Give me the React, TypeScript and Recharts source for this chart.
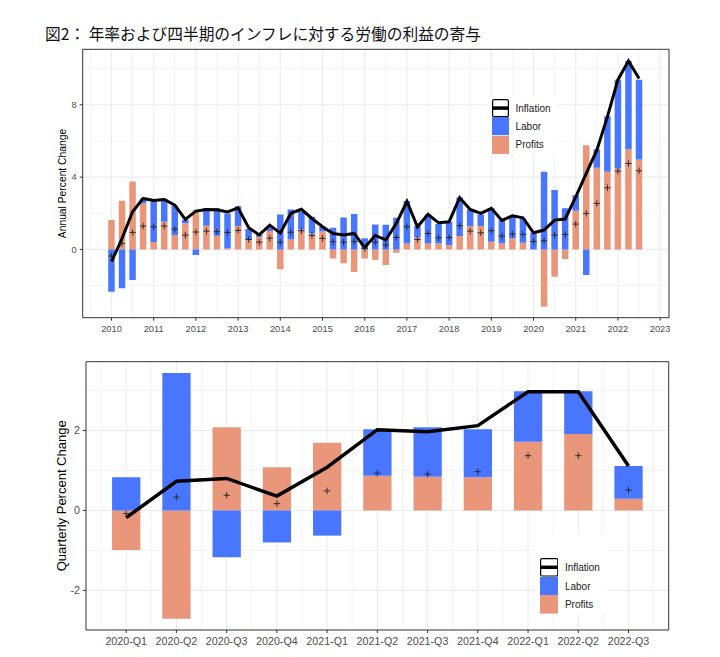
import React from "react";
import {
    ComposedChart,
    Bar,
    Line,
    Scatter,
    XAxis,
    YAxis,
    CartesianGrid,
    ReferenceArea,
    Legend,
} from "recharts";

const BLUE = "#4876FF";
const SALMON = "#E9967A";

// annual series, one value per quarter from 2010-Q1 to 2022-Q3
const annualProfits = [
    1.62, 2.69, 3.76, 2.54, 0.41, 1.53, 0.79, 1.44, 2.17, 1.31, 0.76, 0.06, 1.29,
    0.52, 0.7, 1.02, -1.1, 0.55, 1.1, 0.88, 1.0, -0.5, -0.77, -1.25, -0.5, -0.59,
    -0.87, -0.18, 0.33, 0.66, 0.33, 0.33, 0.24, 0.74, 1.29, 1.29, 0.42, 0.33, 0.61,
    0.37, 0.0, -3.17, -1.51, -0.53, 2.14, 5.76, 4.51, 4.29, 4.47, 5.54, 4.97,
];
const annualLabor = [
    -2.34, -2.15, -1.69, 0.28, 2.35, 1.27, 1.62, 0.18, -0.31, 0.96, 1.51, 1.93, 1.09,
    0.61, 0.1, 0.2, 1.93, 1.66, 1.0, 0.92, 0.25, 1.2, 1.77, 1.96, 0.61, 1.37,
    1.36, 1.75, 2.34, 0.63, 1.6, 1.07, 1.29, 2.13, 0.92, 0.64, 1.85, 1.29, 1.23,
    1.32, 0.92, 4.29, 3.28, 2.27, 0.86, -1.42, 1.03, 3.08, 4.92, 4.88, 4.42,
];
const annualInflation = [
    -0.68, 0.6, 2.08, 2.82, 2.7, 2.76, 2.45, 1.66, 2.12, 2.21, 2.19, 2.07, 2.3,
    1.2, 0.8, 1.34, 0.9, 2.0, 2.22, 1.71, 1.25, 0.88, 0.8, 0.88, 0.1, 0.77,
    0.52, 1.44, 2.65, 1.25, 1.94, 1.47, 1.53, 2.86, 2.21, 1.99, 2.27, 1.6, 1.86,
    1.75, 0.92, 1.07, 1.62, 1.68, 2.91, 4.2, 5.49, 7.33, 9.39, 10.42, 9.45,
];
const annualMarker = [
    -0.37, 0.33, 0.94, 1.29, 1.25, 1.29, 1.12, 0.79, 0.96, 1.01, 0.98, 0.94, 1.05,
    0.55, 0.4, 0.62, 0.4, 0.95, 1.03, 0.77, 0.61, 0.42, 0.4, 0.44, 0.05, 0.4,
    0.24, 0.66, 1.25, 0.55, 0.88, 0.64, 0.66, 1.31, 1.01, 0.92, 1.03, 0.74, 0.85,
    0.83, 0.44, 0.48, 0.79, 0.83, 1.4, 1.99, 2.54, 3.41, 4.33, 4.75, 4.35,
];
const yearTicks = [2010, 2011, 2012, 2013, 2014, 2015, 2016, 2017, 2018, 2019, 2020, 2021, 2022, 2023];
const annualYTicks = [0, 4, 8];
const annualYMinor = [-2, 2, 6, 10];

// quarterly series
const quarterLabels = [
    "2020-Q1", "2020-Q2", "2020-Q3", "2020-Q4", "2021-Q1", "2021-Q2",
    "2021-Q3", "2021-Q4", "2022-Q1", "2022-Q2", "2022-Q3",
];
const quarterLabor = [0.83, 3.44, -1.17, -0.8, -0.63, 1.16, 1.24, 1.2, 1.26, 1.07, 0.82];
const quarterProfits = [-0.99, -2.71, 2.08, 1.08, 1.69, 0.87, 0.84, 0.83, 1.72, 1.91, 0.29];
const quarterInflation = [-0.18, 0.73, 0.8, 0.36, 1.08, 2.02, 1.97, 2.12, 2.97, 2.97, 1.11];
const quarterMarker = [-0.08, 0.33, 0.38, 0.17, 0.49, 0.93, 0.91, 0.97, 1.37, 1.37, 0.51];
const quarterYTicks = [-2, 0, 2];
const quarterYMinor = [-1, 1, 3];

const annualData = annualProfits.map((p, i) => ({
    x: 2010 + i / 4,
    profits: p,
    labor: annualLabor[i],
    inflation: annualInflation[i],
    marker: annualMarker[i],
}));

const quarterData = quarterLabels.map((q, i) => ({
    x: i + 1,
    profits: quarterProfits[i],
    labor: quarterLabor[i],
    inflation: quarterInflation[i],
    marker: quarterMarker[i],
}));

const annualXDomain = [2009.318, 2023.21];
const annualYDomain = [-3.78, 11.07];
const quarterXDomain = [0.2, 11.8];
const quarterYDomain = [-2.99, 3.72];

const halfYears = yearTicks.slice(0, -1).map((y) => y + 0.5).concat([2009.5]);
const quarterMajorX = quarterLabels.map((_, i) => i + 1);
const quarterMinorX = [0.5].concat(quarterLabels.map((_, i) => i + 1.5));

const plusShape = (props: any) => {
    const { cx, cy } = props;
    if (cx == null || cy == null) return <g />;
    return (
        <g>
            <line x1={cx - 3.2} x2={cx + 3.2} y1={cy} y2={cy} stroke="#222" strokeWidth={0.9} />
            <line x1={cx} x2={cx} y1={cy - 3.2} y2={cy + 3.2} stroke="#222" strokeWidth={0.9} />
        </g>
    );
};

const makeLegend = (keyW: number, keyH: number, padTop: number) => () => {
    const rows = [
        { name: "Inflation", kind: "line" },
        { name: "Labor", kind: BLUE },
        { name: "Profits", kind: SALMON },
    ];
    return (
        <div style={{ background: "#fff", paddingTop: padTop, paddingLeft: 4.5 }}>
            {rows.map((r) => (
                <div key={r.name} style={{ display: "flex", alignItems: "center", height: keyH }}>
                    <svg width={keyW} height={keyH} style={{ display: "block" }}>
                        {r.kind === "line" ? (
                            <>
                                <rect x={0.6} y={0.6} width={keyW - 1.2} height={keyH - 1.2} fill="#fff" stroke="#000" strokeWidth={1.2} rx={1.5} />
                                <line x1={1} x2={keyW - 1} y1={keyH / 2} y2={keyH / 2} stroke="#000" strokeWidth={3.5} />
                            </>
                        ) : (
                            <rect x={0} y={0} width={keyW} height={keyH} fill={r.kind} />
                        )}
                    </svg>
                    <span style={{ marginLeft: 7, fontSize: 10, color: "#1a1a1a" }}>{r.name}</span>
                </div>
            ))}
        </div>
    );
};

const tickStyle = (size: number) => ({ fontSize: size, fill: "#4D4D4D" });

const App = () => {
    return (
        <div
            style={{
                position: "absolute",
                left: 0,
                top: 0,
                width: 720,
                height: 657,
                background: "#fff",
                fontFamily: '"Liberation Sans", Arial, sans-serif',
            }}
        >
            <div style={{ position: "absolute", left: 0, top: 0 }}>
                <ComposedChart
                    width={720}
                    height={345}
                    data={annualData}
                    stackOffset="sign"
                    margin={{ top: 49.3, right: 51, bottom: 2.3, left: 42.7 }}
                >
                    <CartesianGrid stroke="#EBEBEB" strokeWidth={0.6} horizontalValues={annualYMinor} verticalValues={halfYears} />
                    <CartesianGrid stroke="#EBEBEB" strokeWidth={1.1} horizontalValues={annualYTicks} verticalValues={yearTicks} />
                    <XAxis
                        dataKey="x"
                        type="number"
                        domain={annualXDomain}
                        ticks={yearTicks}
                        interval={0}
                        allowDataOverflow
                        height={25}
                        axisLine={false}
                        tickSize={3}
                        tickMargin={5}
                        tickLine={{ stroke: "#333" }}
                        tick={tickStyle(9.3)}
                    />
                    <YAxis
                        type="number"
                        domain={annualYDomain}
                        ticks={annualYTicks}
                        interval={0}
                        allowDataOverflow
                        width={40}
                        axisLine={false}
                        tickSize={3}
                        tickMargin={3}
                        tickLine={{ stroke: "#333" }}
                        tick={tickStyle(9.3)}
                        label={{ value: "Annual Percent Change", angle: -90, position: "center", fontSize: 10.3, fill: "#000" }}
                    />
                    <Bar dataKey="profits" stackId="s" fill={SALMON} barSize={6.5} isAnimationActive={false} />
                    <Bar dataKey="labor" stackId="s" fill={BLUE} barSize={6.5} isAnimationActive={false} />
                    <Line type="linear" dataKey="inflation" stroke="#000" strokeWidth={3} dot={false} isAnimationActive={false} />
                    <Scatter dataKey="marker" shape={plusShape} isAnimationActive={false} />
                    <ReferenceArea
                        x1={annualXDomain[0]}
                        x2={annualXDomain[1]}
                        y1={annualYDomain[0]}
                        y2={annualYDomain[1]}
                        fill="none"
                        stroke="#333"
                        strokeWidth={1}
                        ifOverflow="visible"
                    />
                    <Legend
                        layout="vertical"
                        align="center"
                        verticalAlign="middle"
                        content={makeLegend(17, 18.2, 2.6)}
                        wrapperStyle={{ left: 487, top: 96.7, width: 71, height: 58 }}
                    />
                </ComposedChart>
            </div>

            <div style={{ position: "absolute", left: 0, top: 345 }}>
                <ComposedChart
                    width={720}
                    height={312}
                    data={quarterData}
                    stackOffset="sign"
                    margin={{ top: 16.7, right: 51.3, bottom: 2, left: 37.4 }}
                >
                    <CartesianGrid stroke="#EBEBEB" strokeWidth={0.6} horizontalValues={quarterYMinor} verticalValues={quarterMinorX} />
                    <CartesianGrid stroke="#EBEBEB" strokeWidth={1.1} horizontalValues={quarterYTicks} verticalValues={quarterMajorX} />
                    <XAxis
                        dataKey="x"
                        type="number"
                        domain={quarterXDomain}
                        ticks={quarterMajorX}
                        interval={0}
                        allowDataOverflow
                        height={25}
                        axisLine={false}
                        tickSize={3}
                        tickMargin={4.3}
                        tickLine={{ stroke: "#333" }}
                        tick={tickStyle(10.7)}
                        tickFormatter={(v: number) => quarterLabels[v - 1]}
                    />
                    <YAxis
                        type="number"
                        domain={quarterYDomain}
                        ticks={quarterYTicks}
                        interval={0}
                        allowDataOverflow
                        width={48.6}
                        axisLine={false}
                        tickSize={3}
                        tickMargin={3}
                        tickLine={{ stroke: "#333" }}
                        tick={tickStyle(10.7)}
                        label={{ value: "Quarterly Percent Change", angle: -90, position: "center", fontSize: 13, fill: "#000" }}
                    />
                    <Bar dataKey="profits" stackId="s" fill={SALMON} barSize={28.3} isAnimationActive={false} />
                    <Bar dataKey="labor" stackId="s" fill={BLUE} barSize={28.3} isAnimationActive={false} />
                    <Line type="linear" dataKey="inflation" stroke="#000" strokeWidth={3.5} dot={false} isAnimationActive={false} />
                    <Scatter dataKey="marker" shape={plusShape} isAnimationActive={false} />
                    <ReferenceArea
                        x1={quarterXDomain[0]}
                        x2={quarterXDomain[1]}
                        y1={quarterYDomain[0]}
                        y2={quarterYDomain[1]}
                        fill="none"
                        stroke="#333"
                        strokeWidth={1}
                        ifOverflow="visible"
                    />
                    <Legend
                        layout="vertical"
                        align="center"
                        verticalAlign="middle"
                        content={makeLegend(18.4, 18.6, 25.3)}
                        wrapperStyle={{ left: 535, top: 188, width: 72, height: 87 }}
                    />
                </ComposedChart>
            </div>

            <svg width={720} height={50} style={{ position: "absolute", left: 0, top: 0 }}>
                <text
                    x={45}
                    y={40}
                    fontSize={16}
                    textLength={436}
                    lengthAdjust="spacingAndGlyphs"
                    fill="#111"
                    fontFamily='"Noto Sans CJK JP", sans-serif'
                >
                    図2： 年率および四半期のインフレに対する労働の利益の寄与
                </text>
            </svg>
        </div>
    );
};

export default App;
